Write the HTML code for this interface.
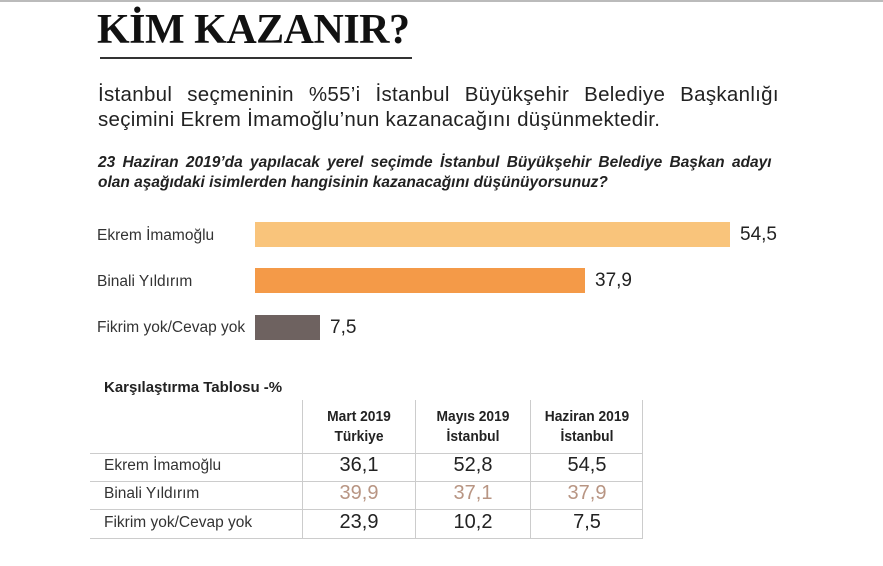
<!DOCTYPE html>
<html><head><meta charset="utf-8"><style>
body{margin:0;width:883px;height:566px;background:#fff;position:relative;overflow:hidden;font-family:"Liberation Sans",sans-serif;color:#222}
.a{position:absolute;white-space:nowrap}
.t{font-family:"Liberation Serif",serif;font-weight:bold;font-size:42px;left:97px;top:6px;letter-spacing:-0.5px;color:#111}
.p{font-size:20.5px;left:98px;color:#222;letter-spacing:0.3px}
.q{font-size:15.5px;font-weight:bold;font-style:italic;left:98px;color:#222}
.lbl{font-size:15.5px;left:97px;color:#333}
.val{font-size:19px;color:#222}
.bar{position:absolute;left:255px;height:25px}
.th{font-weight:bold;font-size:15px;text-align:center;width:110px;line-height:20px;transform:scaleX(0.92)}
.td{font-size:20px;text-align:center;width:110px}
.rl{font-size:15.5px;left:104px;color:#333}
.vl{position:absolute;width:1px;background:#ccc;top:400px;height:138px}
.hl{position:absolute;left:90px;width:553px;height:1px;background:#ccc}
</style></head><body>
<div class="a" style="left:0;top:0;width:883px;height:2px;background:#bbb"></div>
<div class="a t">KİM KAZANIR?</div>
<div class="a" style="left:100px;top:57px;width:312px;height:2px;background:#333"></div>
<div class="a p" style="top:83px;word-spacing:9px">İstanbul seçmeninin %55’i İstanbul Büyükşehir Belediye Başkanlığı</div>
<div class="a p" style="top:108px">seçimini Ekrem İmamoğlu’nun kazanacağını düşünmektedir.</div>
<div class="a q" style="top:154px;word-spacing:3px">23 Haziran 2019’da yapılacak yerel seçimde İstanbul Büyükşehir Belediye Başkan adayı</div>
<div class="a q" style="top:174px">olan aşağıdaki isimlerden hangisinin kazanacağını düşünüyorsunuz?</div>
<div class="a lbl" style="top:227px">Ekrem İmamoğlu</div>
<div class="bar" style="top:222px;width:475px;background:#f9c47b"></div>
<div class="a val" style="left:740px;top:224px">54,5</div>
<div class="a lbl" style="top:273px">Binali Yıldırım</div>
<div class="bar" style="top:268px;width:330px;background:#f49a48"></div>
<div class="a val" style="left:595px;top:270px">37,9</div>
<div class="a lbl" style="top:319px">Fikrim yok/Cevap yok</div>
<div class="bar" style="top:315px;width:65px;background:#6e6260"></div>
<div class="a val" style="left:330px;top:317px">7,5</div>
<div class="a" style="left:104px;top:379px;font-weight:bold;font-size:15px">Karşılaştırma Tablosu -%</div>
<div class="vl" style="left:302px"></div><div class="vl" style="left:415px"></div><div class="vl" style="left:530px"></div><div class="vl" style="left:642px"></div>
<div class="hl" style="top:453px"></div><div class="hl" style="top:481px"></div><div class="hl" style="top:509px"></div><div class="hl" style="top:538px"></div>
<div class="a th" style="left:304px;top:407px">Mart 2019<br>Türkiye</div>
<div class="a th" style="left:418px;top:407px">Mayıs 2019<br>İstanbul</div>
<div class="a th" style="left:532px;top:407px">Haziran 2019<br>İstanbul</div>
<div class="a rl" style="top:457px">Ekrem İmamoğlu</div>
<div class="a rl" style="top:485px">Binali Yıldırım</div>
<div class="a rl" style="top:514px">Fikrim yok/Cevap yok</div>
<div class="a td" style="left:304px;top:454px">36,1</div><div class="a td" style="left:418px;top:454px">52,8</div><div class="a td" style="left:532px;top:454px">54,5</div>
<div class="a td" style="left:304px;top:482px;color:#b89583">39,9</div><div class="a td" style="left:418px;top:482px;color:#b89583">37,1</div><div class="a td" style="left:532px;top:482px;color:#b89583">37,9</div>
<div class="a td" style="left:304px;top:511px">23,9</div><div class="a td" style="left:418px;top:511px">10,2</div><div class="a td" style="left:532px;top:511px">7,5</div>
</body></html>
